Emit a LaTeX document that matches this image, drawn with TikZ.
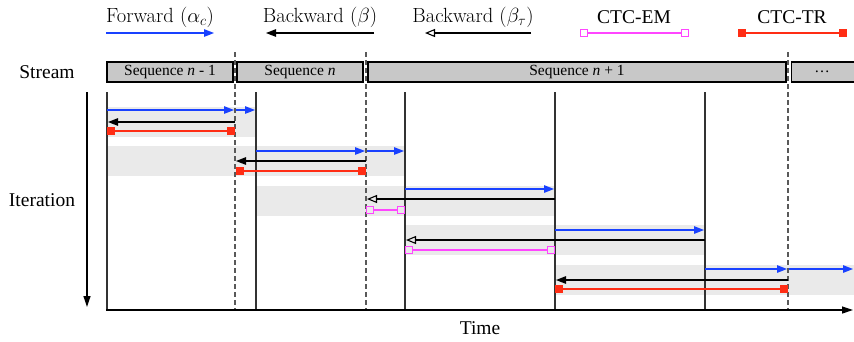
\documentclass[tikz,border=0pt]{standalone}
\usepackage{fix-cm}
\usepackage{fontspec}
\setmainfont{Liberation Serif}
\newfontfamily\lmfont{Latin Modern Roman}
\usetikzlibrary{arrows.meta}
\definecolor{fblue}{RGB}{25,65,255}
\definecolor{trred}{RGB}{255,45,20}
\definecolor{emmag}{RGB}{255,70,255}
\definecolor{bandgray}{RGB}{234,234,234}
\definecolor{boxgray}{RGB}{200,200,200}
\begin{document}
\begin{tikzpicture}[x=1pt,y=-1pt,
  lbl/.style={inner sep=0pt, font=\fontsize{19.5}{22}\selectfont},
  leg/.style={inner sep=0pt, font=\lmfont\fontsize{20.5}{23}\selectfont},
  seqbox/.style={draw=black, line width=1.2pt, fill=boxgray, inner sep=0pt, font=\fontsize{15.5}{17}\selectfont},
  band/.style={fill=bandgray, draw=none},
  tline/.style={draw=black!80, line width=1.2pt},
  dline/.style={draw=black!65, line width=1.2pt, dash pattern=on 4.5pt off 3.5pt},
  fwd/.style={draw=fblue, line width=1.3pt, -{Triangle[length=10pt,width=7.5pt]}},
  bwd/.style={draw=black, line width=1.3pt, -{Triangle[length=10pt,width=7.5pt]}},
  bwdt/.style={draw=black, line width=1.3pt, -{Triangle[open,length=10pt,width=8pt,line width=1.1pt]}},
  em/.style={draw=emmag, line width=1.3pt, {Square[open,length=8pt,width=8pt,line width=1.1pt]}-{Square[open,length=8pt,width=8pt,line width=1.1pt]}},
  tr/.style={draw=trred, line width=1.3pt, {Square[fill=trred,length=8pt,width=8pt]}-{Square[fill=trred,length=8pt,width=8pt]}},
  axis/.style={draw=black, line width=1.2pt, -{Triangle[length=11pt,width=7pt]}}
]
\fill[white] (0,0) rectangle (854,341);
\useasboundingbox (0,0) rectangle (854,341);

% legend
\node[leg] (lfwd) at (160,17) {Forward $(\alpha_c)$};
\node[leg] (lbwd) at (320,17) {Backward $(\beta)$};
\node[leg] (lbwdt) at (473,17) {Backward $(\beta_\tau)$};
\node[lbl] (lem) at (634,17) {CTC-EM};
\node[lbl] (ltr) at (792,17) {CTC-TR};
\coordinate (a1) at (106,33); \coordinate (a2) at (214,33);
\coordinate (b1) at (374,33); \coordinate (b2) at (266,33);
\coordinate (c1) at (531,33); \coordinate (c2) at (425,33);
\coordinate (e1) at (580,33); \coordinate (e2) at (689,33);
\coordinate (r1) at (738,33); \coordinate (r2) at (847,33);
\draw[fwd] (a1) -- (a2);
\draw[bwd] (b1) -- (b2);
\draw[bwdt] (c1) -- (c2);
\draw[em] (e1) -- (e2);
\draw[tr] (r1) -- (r2);

% labels
\node[lbl] (stream) at (47,72) {Stream};
\node[lbl] (iter) at (42,200) {Iteration};
\node[lbl] (time) at (480,328) {Time};

% bands
\fill[band] (107,107) rectangle (256,137);
\fill[band] (107,146) rectangle (405,176);
\fill[band] (256,186) rectangle (555,216);
\fill[band] (405,225) rectangle (705,255);
\fill[band] (555,265) rectangle (854,295);

% stream boxes
\node[seqbox, minimum width=126pt, minimum height=20pt] (s1) at (170,72) {Sequence \textit{n} - 1};
\node[seqbox, minimum width=126pt, minimum height=20pt] (s2) at (300,72) {Sequence \textit{n}};
\node[seqbox, minimum width=418pt, minimum height=20pt] (s3) at (577,72) {Sequence \textit{n} + 1};
\node[seqbox, minimum width=80pt, minimum height=20pt, anchor=west] (s4) at (791,72) {};
\node[inner sep=0pt, font=\fontsize{15.5}{17}\selectfont] (dots) at (822,72) {\ldots};

% vertical lines
\foreach \x in {107,256,405,555,705} \draw[tline] (\x,92) -- (\x,310);
\foreach \x in {235,366,788} \draw[dline] (\x,52) -- (\x,310);

% axes
\coordinate (io) at (87,92); \coordinate (ie) at (87,307);
\draw[axis] (io) -- (ie);
\coordinate (to) at (106.4,310); \coordinate (te) at (853,310);
\draw[axis] (to) -- (te);

% iteration 1
\draw[fwd] (107,110) -- (234,110);
\draw[fwd] (236,110) -- (255,110);
\draw[bwd] (235,122) -- (108,122);
\draw[tr] (107,131) -- (235,131);
% iteration 2
\draw[fwd] (256,151) -- (365,151);
\draw[fwd] (367,151) -- (404,151);
\draw[bwd] (366,161) -- (236,161);
\draw[tr] (236,171) -- (366,171);
% iteration 3
\draw[fwd] (405,189) -- (554,189);
\draw[bwdt] (555,199) -- (367,199);
\draw[em] (366,210) -- (405,210);
% iteration 4
\draw[fwd] (555,230) -- (704,230);
\draw[bwdt] (705,240) -- (406,240);
\draw[em] (405,250) -- (555,250);
% iteration 5
\draw[fwd] (705,269) -- (787,269);
\draw[fwd] (789,269) -- (853,269);
\draw[bwd] (788,280) -- (556,280);
\draw[tr] (555,289) -- (788,289);
\end{tikzpicture}
\end{document}
